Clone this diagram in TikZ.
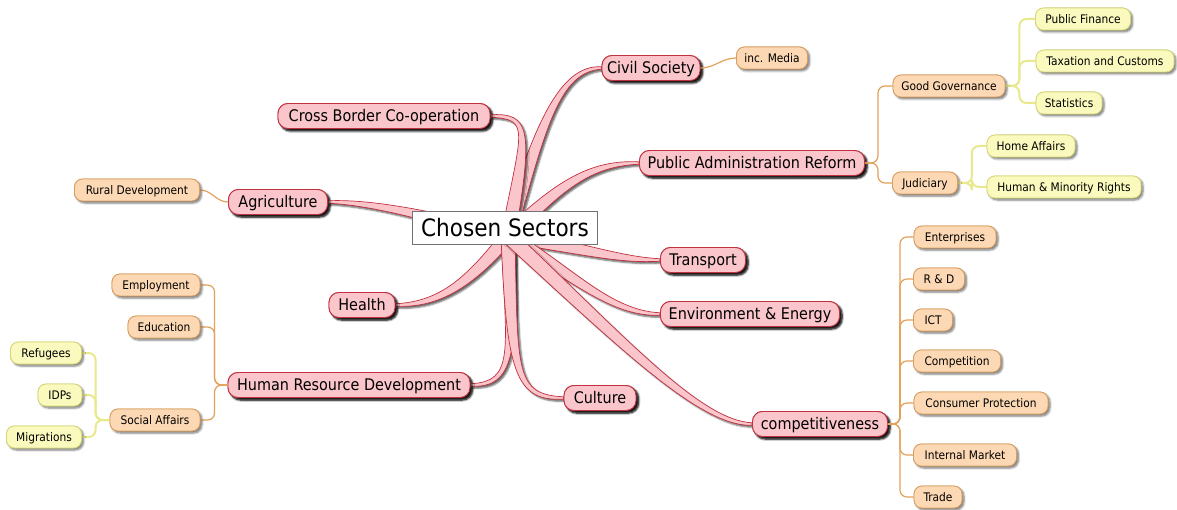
\documentclass[tikz,border=0pt]{standalone}
\usepackage{fontspec}
\setmainfont{DejaVu Sans Condensed}
\usetikzlibrary{calc,shadows.blur}

\definecolor{mainfill}{HTML}{FAC6CB}
\definecolor{mainedge}{HTML}{C2313F}
\definecolor{subfill}{HTML}{FCD9B4}
\definecolor{subedge}{HTML}{D89E60}
\definecolor{leaffill}{HTML}{FAFABE}
\definecolor{leafedge}{HTML}{D6D67A}
\definecolor{orline}{HTML}{E2A25A}
\definecolor{yline}{HTML}{E8E88C}

% tapered limb from the hub: #1 first control, #2 second control, #3 end,
% #4 half width at the hub, #5 half width around the second control
\newcommand{\limb}[5]{%
  \coordinate (lA) at ($(hub)!#4!90:#1$);
  \coordinate (lB) at ($(hub)!#4!-90:#1$);
  \coordinate (cA) at ($#1+0.8*(lA)-0.8*(hub)$);
  \coordinate (cB) at ($#1+0.8*(lB)-0.8*(hub)$);
  \coordinate (dA) at ($#2!#5!90:#3$);
  \coordinate (dB) at ($#2!#5!-90:#3$);
  \coordinate (eA) at ($#3+0.35*(dA)-0.35*#2$);
  \coordinate (eB) at ($#3+0.35*(dB)-0.35*#2$);
  \filldraw[limbstyle] (lA) .. controls (cA) and (dA) .. (eA) -- (eB)
     .. controls (dB) and (cB) .. (lB) -- cycle;
}

\begin{document}
\begin{tikzpicture}[x=1pt,y=-1pt,
  shad/.style={blur shadow={shadow xshift=2.5pt,shadow yshift=-2.5pt,shadow blur radius=2pt,shadow blur steps=5,shadow opacity=75}},
  limbshad/.style={blur shadow={shadow xshift=2pt,shadow yshift=-2pt,shadow blur radius=1.5pt,shadow blur steps=4,shadow opacity=60}},
  lightshad/.style={blur shadow={shadow xshift=2pt,shadow yshift=-2pt,shadow blur radius=2pt,shadow blur steps=5,shadow opacity=30}},
  topic/.style={draw=mainedge, line width=0.9pt, fill=mainfill, rounded corners=10pt,
    minimum height=25pt, inner xsep=5pt, inner ysep=0pt, text height=11.6pt, text depth=0pt,
    font=\fontsize{16}{18}\selectfont, shad},
  sub/.style={draw=subedge, line width=0.8pt, fill=subfill, rounded corners=8pt,
    minimum height=22pt, inner xsep=4pt, inner ysep=0pt, text height=8.6pt, text depth=0pt,
    font=\fontsize{11.8}{13}\selectfont, lightshad},
  leaf/.style={sub, draw=leafedge, fill=leaffill},
  central/.style={draw=black!55, fill=white, line width=0.7pt, minimum width=185pt,
    minimum height=33pt, inner sep=0pt, text height=17.5pt, text depth=0pt,
    font=\fontsize{24}{27}\selectfont},
  limbstyle/.style={fill=mainfill, draw=mainedge, line width=0.7pt, limbshad},
  twig/.style={draw=orline, line width=1.2pt, rounded corners=7pt},
  ytwig/.style={draw=yline, line width=2pt, rounded corners=7pt}
]
\useasboundingbox (0,0) rectangle (1177,510);

% main topics
\node[topic, minimum width=94pt]  (civ)  at (651,68)  {Civil Society};
\node[topic, minimum width=212pt] (cbc)  at (384,116) {Cross Border Co-operation};
\node[topic, minimum width=225pt] (par)  at (752,163) {Public Administration Reform};
\node[topic, minimum width=99pt]  (agr)  at (278,202) {Agriculture};
\node[topic, minimum width=85pt]  (tra)  at (703,260) {Transport};
\node[topic, minimum width=179pt] (env)  at (750,314) {Environment \& Energy};
\node[topic, minimum width=66pt]  (hea)  at (362,305) {Health};
\node[topic, minimum width=242pt] (hrd)  at (349,385) {Human Resource Development};
\node[topic, minimum width=72pt]  (cul)  at (600,398) {Culture};
\node[topic, minimum width=135pt] (comp) at (820,424) {competitiveness};

% the hub and its limbs
\coordinate (hub) at (508,236);
\limb{(540,125)}{(560,68)}{(civ.west)}{7.5pt}{3.5pt}
\limb{(528,128)}{(530,116)}{(cbc.east)}{7pt}{3.5pt}
\limb{(560,185)}{(590,163)}{(par.west)}{7pt}{3.5pt}
\limb{(450,222)}{(380,202)}{(agr.east)}{7pt}{3.5pt}
\limb{(590,250)}{(620,260)}{(tra.west)}{7pt}{3.5pt}
\limb{(570,272)}{(610,314)}{(env.west)}{7pt}{3.5pt}
\limb{(470,282)}{(440,305)}{(hea.east)}{7pt}{3.5pt}
\limb{(512,352)}{(515,385)}{(hrd.east)}{7pt}{3.5pt}
\limb{(512,372)}{(515,398)}{(cul.west)}{7pt}{3.5pt}
\limb{(620,340)}{(700,424)}{(comp.west)}{7.5pt}{3.5pt}

% redraw topics above the limbs
\node[topic, minimum width=94pt]  at (civ)  {Civil Society};
\node[topic, minimum width=212pt] at (cbc)  {Cross Border Co-operation};
\node[topic, minimum width=225pt] at (par)  {Public Administration Reform};
\node[topic, minimum width=99pt]  at (agr)  {Agriculture};
\node[topic, minimum width=85pt]  at (tra)  {Transport};
\node[topic, minimum width=179pt] at (env)  {Environment \& Energy};
\node[topic, minimum width=66pt]  at (hea)  {Health};
\node[topic, minimum width=242pt] at (hrd)  {Human Resource Development};
\node[topic, minimum width=72pt]  at (cul)  {Culture};
\node[topic, minimum width=135pt] at (comp) {competitiveness};

\node[central] (cs) at (505,228) {Chosen Sectors};

% second level
\node[sub, minimum width=71pt]  (med) at (772,58)  {inc. Media};
\node[sub, minimum width=112pt] (gg)  at (949,86)  {Good Governance};
\node[sub, minimum width=65pt]  (jud) at (925,183) {Judiciary};
\node[sub, minimum width=125pt] (rur) at (137,190) {Rural Development};
\node[sub, minimum width=88pt]  (emp) at (156,285) {Employment};
\node[sub, minimum width=72pt]  (edu) at (164,327) {Education};
\node[sub, minimum width=90pt]  (soc) at (155,420) {Social Affairs};
\node[sub, minimum width=82pt]  (ent) at (955,237) {Enterprises};
\node[sub, minimum width=51pt]  (rd)  at (939,279) {R \& D};
\node[sub, minimum width=39pt]  (ict) at (933,320) {ICT};
\node[sub, minimum width=87pt]  (cpt) at (957,361) {Competition};
\node[sub, minimum width=134pt] (cpr) at (981,403) {Consumer Protection};
\node[sub, minimum width=103pt] (ima) at (965,455) {Internal Market};
\node[sub, minimum width=48pt]  (trd) at (938,497) {Trade};

% third level
\node[leaf, minimum width=95pt]  (pf)  at (1083,19)  {Public Finance};
\node[leaf, minimum width=138pt] (tax) at (1105,61)  {Taxation and Customs};
\node[leaf, minimum width=66pt]  (sta) at (1069,103) {Statistics};
\node[leaf, minimum width=88pt]  (hom) at (1031,146) {Home Affairs};
\node[leaf, minimum width=154pt] (hmr) at (1064,187) {Human \& Minority Rights};
\node[leaf, minimum width=71pt]  (ref) at (46,353)   {Refugees};
\node[leaf, minimum width=44pt]  (idp) at (60,395)   {IDPs};
\node[leaf, minimum width=75pt]  (mig) at (44,437)   {Migrations};

% orange connectors
\draw[twig] (civ.east) to[out=0,in=180] (med.west);
\draw[twig] (agr.west) to[out=180,in=0] (rur.east);
\foreach \c in {gg,jud} \draw[twig] (par.east) -- ++(13,0) |- (\c.west);
\foreach \c in {emp,edu,soc} \draw[twig] (hrd.west) -- ++(-13,0) |- (\c.east);
\foreach \c in {ent,rd,ict,cpt,cpr,ima,trd} \draw[twig] (comp.east) -- ++(12,0) |- (\c.west);

% yellow connectors
\foreach \c in {pf,tax,sta} \draw[ytwig] (gg.east) -- ++(14,0) |- (\c.west);
\foreach \c in {hom,hmr} \draw[ytwig] (jud.east) -- ++(14,0) |- (\c.west);
\foreach \c in {ref,idp,mig} \draw[ytwig] (soc.west) -- ++(-14,0) |- (\c.east);

% nodes over their connectors
\foreach \n/\w/\t in {med/71/inc. Media, gg/112/Good Governance, jud/65/Judiciary,
  rur/125/Rural Development, emp/88/Employment, edu/72/Education, soc/90/Social Affairs,
  ent/82/Enterprises, rd/51/R \& D, ict/39/ICT, cpt/87/Competition,
  cpr/134/Consumer Protection, ima/103/Internal Market, trd/48/Trade}
  \node[sub, minimum width=\w pt] at (\n) {\t};
\foreach \n/\w/\t in {pf/95/Public Finance, tax/138/Taxation and Customs, sta/66/Statistics,
  hom/88/Home Affairs, hmr/154/Human \& Minority Rights, ref/71/Refugees, idp/44/IDPs,
  mig/75/Migrations}
  \node[leaf, minimum width=\w pt] at (\n) {\t};
\end{tikzpicture}
\end{document}
